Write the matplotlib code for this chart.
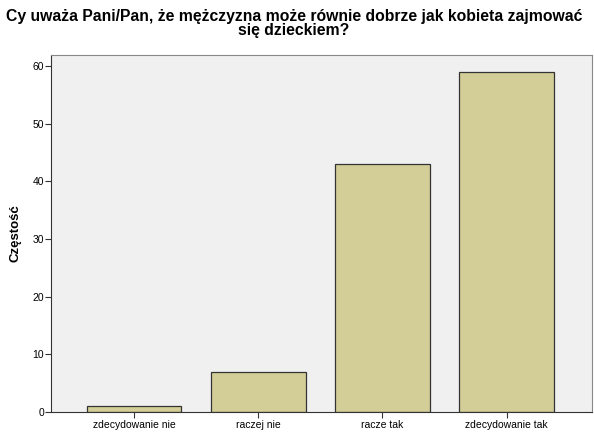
import matplotlib
matplotlib.use("Agg")
import matplotlib.pyplot as plt

categories = ["zdecydowanie nie", "raczej nie", "racze tak", "zdecydowanie tak"]
counts = [1, 7, 43, 59]
yticks = [0, 10, 20, 30, 40, 50, 60]

plt.rcParams['font.family'] = ['Liberation Sans', 'DejaVu Sans']

fig = plt.figure(figsize=(5.94, 4.32), dpi=100)
ax = fig.add_axes([0.086, 0.046, 0.911, 0.827])
ax.set_facecolor('#f0f0f0')

x = list(range(len(categories)))
ax.bar(x, counts, width=0.76, color='#d3ce97', edgecolor='#333333', linewidth=0.9)

ax.set_xlim(-0.67, 3.69)
ax.set_ylim(0, 61.9)
ax.set_xticks(x)
ax.set_xticklabels(categories, fontsize=7.5)
ax.set_yticks(yticks)
ax.tick_params(axis='y', labelsize=7.5, length=4, color='#333333', pad=1)
ax.tick_params(axis='x', length=4, color='#333333', pad=2)
for s in ['top', 'right']:
    ax.spines[s].set_color('#888888')
for s in ['left', 'bottom']:
    ax.spines[s].set_color('#333333')
ax.set_ylabel('Częstość', fontsize=9.5, fontweight='bold', labelpad=8)

fig.suptitle('Cy uważa Pani/Pan, że mężczyzna może równie dobrze jak kobieta zajmować\nsię dzieckiem?',
             fontsize=11.3, fontweight='bold', x=0.495, y=0.98, linespacing=0.95)

fig.savefig('out.png', dpi=100)
